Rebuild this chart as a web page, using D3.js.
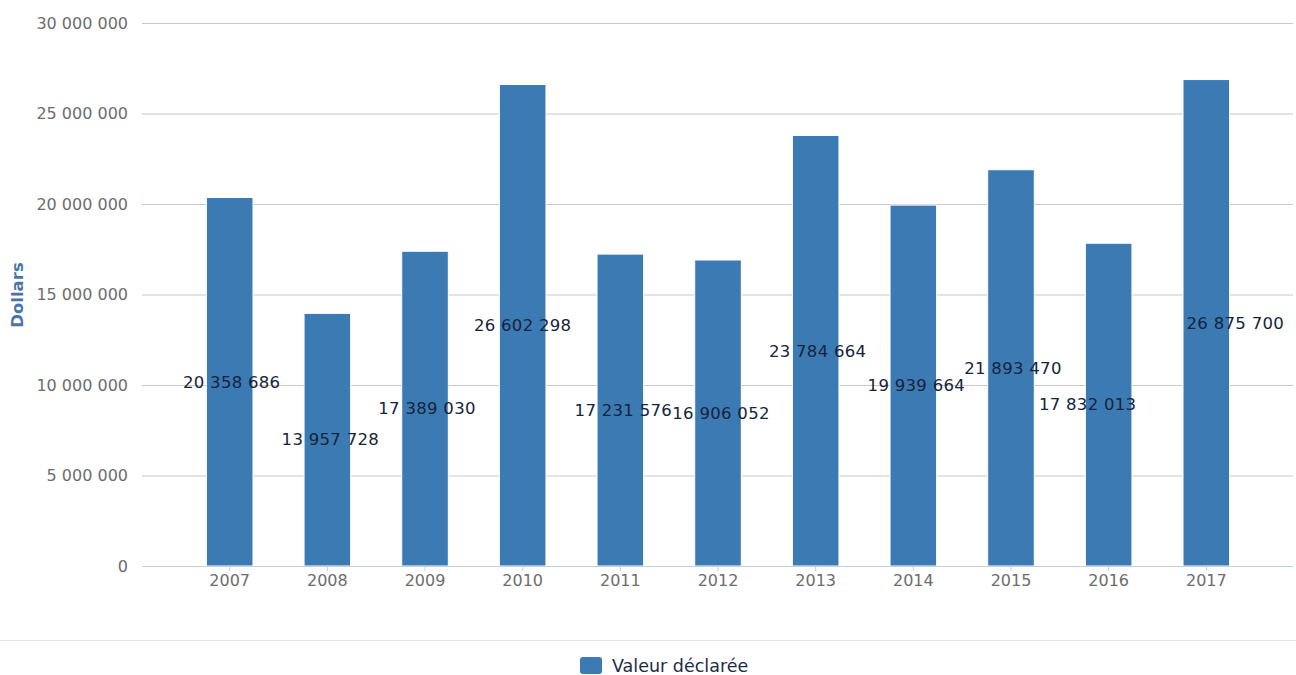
<!DOCTYPE html>
<html><head><meta charset="utf-8">
<script src="https://cdn.jsdelivr.net/npm/d3@7"></script>
<style>body{margin:0;background:#fff}svg{display:block}</style>
</head><body>
<svg id="c" width="1296" height="675"></svg>
<script>
const categories = ["2007","2008","2009","2010","2011","2012","2013","2014","2015","2016","2017"];
const values = [20358686,13957728,17389030,26602298,17231576,16906052,23784664,19939664,21893470,17832013,26875700];
const yTicks = [0,5000000,10000000,15000000,20000000,25000000,30000000];
const seriesName = "Valeur déclarée";
const axisTitle = "Dollars";

// layout: horizontal nudges of data labels (px), as placed in the original
const labelNudge = [2,3,2,0,3,3,2,3,2,-21,29];

const svg = d3.select("#c");
const font = "DejaVu Sans, Verdana, sans-serif";
const fmt = v => d3.format(",")(v).replace(/,/g, " ");
const y = d3.scaleLinear().domain([0,30000000]).range([566,23]);
const x = d3.scaleBand().domain(categories).range([181,1255]).paddingInner(0.523).paddingOuter(0.26);
const gridL = 142, gridR = 1293;

svg.append("g").selectAll("line").data(yTicks.filter(d=>d>0)).join("line")
  .attr("x1",gridL).attr("x2",gridR).attr("y1",d=>y(d)+0.5).attr("y2",d=>y(d)+0.5)
  .attr("stroke","#c8c8c8").attr("stroke-width",1);

svg.append("g").selectAll("text").data(yTicks).join("text")
  .attr("x",128).attr("y",d=>y(d)).attr("dy","0.35em").attr("text-anchor","end")
  .attr("font-family",font).attr("font-size",16).attr("fill","#6d6d6d").text(fmt);

svg.append("text").attr("transform","translate(23,295) rotate(-90)").attr("text-anchor","middle")
  .attr("font-family",font).attr("font-size",16.5).attr("font-weight","bold").attr("fill","#4a74a8").text(axisTitle);

svg.append("g").selectAll("rect").data(values).join("rect")
  .attr("x",(d,i)=>x(categories[i])).attr("width",x.bandwidth())
  .attr("y",d=>y(d)).attr("height",d=>y(0)-y(d))
  .attr("fill","#3c7ab4").attr("stroke","#ffffff").attr("stroke-width",1);

svg.append("line").attr("x1",gridL).attr("x2",gridR).attr("y1",566.5).attr("y2",566.5).attr("stroke","#c0d0e0");
svg.append("g").selectAll("line").data(categories).join("line")
  .attr("x1",d=>x(d)+x.bandwidth()/2).attr("x2",d=>x(d)+x.bandwidth()/2)
  .attr("y1",566).attr("y2",571).attr("stroke","#c0d0e0");
svg.append("g").selectAll("text").data(categories).join("text")
  .attr("x",d=>x(d)+x.bandwidth()/2).attr("y",580).attr("dy","0.35em").attr("text-anchor","middle")
  .attr("font-family",font).attr("font-size",16).attr("fill","#6d6d6d").text(d=>d);

svg.append("g").selectAll("text").data(values).join("text")
  .attr("x",(d,i)=>x(categories[i])+x.bandwidth()/2+labelNudge[i]).attr("y",d=>(y(d)+y(0))/2).attr("dy","0.35em")
  .attr("text-anchor","middle").attr("font-family",font).attr("font-size",16.5).attr("letter-spacing",0.3)
  .attr("fill","#14243c").text(fmt);

svg.append("line").attr("x1",0).attr("x2",1296).attr("y1",640.5).attr("y2",640.5).attr("stroke","#e6e6e6");
svg.append("rect").attr("x",580).attr("y",657).attr("width",22).attr("height",17).attr("rx",3).attr("fill","#3c7ab4");
svg.append("text").attr("x",612).attr("y",666).attr("dy","0.35em").attr("font-family",font)
  .attr("font-size",17.5).attr("fill","#1e2d44").text(seriesName);
</script>
</body></html>
